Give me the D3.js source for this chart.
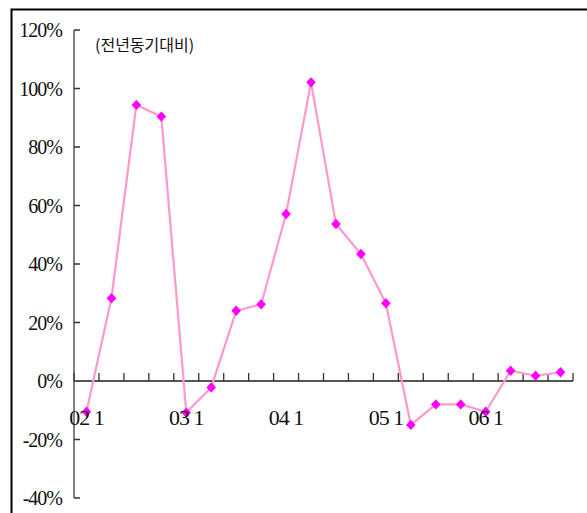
<!DOCTYPE html>
<html><head><meta charset="utf-8">
<script src="https://cdn.jsdelivr.net/npm/d3@7"></script>
<style>body{margin:0;background:#fff}svg{display:block}</style>
</head><body>
<script>
const categories = ["02 1","","","","03 1","","","","04 1","","","","05 1","","","","06 1","","",""];
const values = [-10.5, 28.3, 94.4, 90.4, -10.8, -2.2, 24.0, 26.2, 57.1, 102.1, 53.7, 43.4, 26.6, -15.0, -8.0, -8.0, -10.5, 3.5, 1.8, 3.0];
const yTicks = [-40, -20, 0, 20, 40, 60, 80, 100, 120];
const title = "(전년동기대비)";

const W = 587, H = 513;
const svg = d3.select("body").append("svg").attr("width", W).attr("height", H);

// frame
svg.append("path").attr("d", `M11.5,${H} V9.5 H${W}`).attr("fill","none").attr("stroke","#000").attr("stroke-width",2);

const x = d3.scaleBand().domain(d3.range(categories.length)).range([74, 573]);
const y = d3.scaleLinear().domain([-40, 120]).range([498, 30]);

const serif = "'Liberation Serif','DejaVu Serif',serif";

// y axis
svg.append("line").attr("x1",74).attr("x2",74).attr("y1",y(120)).attr("y2",y(-40))
  .attr("stroke","#808080").attr("stroke-width",2);
svg.selectAll(".yt").data(yTicks).enter().append("line")
  .attr("x1",74).attr("x2",80).attr("y1",d=>y(d)).attr("y2",d=>y(d))
  .attr("stroke","#333").attr("stroke-width",1.5);
svg.selectAll(".yl").data(yTicks).enter().append("text")
  .attr("x",62).attr("y",d=>y(d)+7)
  .attr("text-anchor","end").attr("font-family",serif).attr("font-size",20)
  .attr("letter-spacing","-1px").attr("fill","#111")
  .text(d=>d+"%");

// x axis
const xb = d3.range(categories.length+1).map(i => i < categories.length ? x(i) : x.range()[1]);
svg.append("line").attr("x1",74).attr("x2",573).attr("y1",y(0)).attr("y2",y(0))
  .attr("stroke","#555").attr("stroke-width",2);
svg.selectAll(".xt").data(xb).enter().append("line")
  .attr("x1",d=>d).attr("x2",d=>d).attr("y1",y(0)).attr("y2",y(0)-8)
  .attr("stroke","#333").attr("stroke-width",1.3);

// line
const line = d3.line().x((d,i)=>x(i)+x.bandwidth()/2).y(d=>y(d));
svg.append("path").datum(values).attr("d",line).attr("fill","none")
  .attr("stroke","#FF99CC").attr("stroke-width",2.2);
svg.selectAll(".pt").data(values).enter().append("path")
  .attr("transform",(d,i)=>`translate(${x(i)+x.bandwidth()/2},${y(d)})`)
  .attr("d","M0,-5.2 L4.8,0 L0,5.2 L-4.8,0 Z").attr("fill","#FF00FF");

// category labels
svg.selectAll(".xl").data(categories).enter().append("text")
  .attr("x",(d,i)=>x(i)+x.bandwidth()/2).attr("y",425)
  .attr("text-anchor","middle").attr("font-family",serif).attr("font-size",22)
  .attr("letter-spacing","-1px").attr("fill","#111")
  .text(d=>d);

// title
svg.append("text").attr("x",95).attr("y",51)
  .attr("font-family","'Noto Sans CJK KR',sans-serif").attr("font-size",16)
  .attr("fill","#111").text(title);
</script>
</body></html>
